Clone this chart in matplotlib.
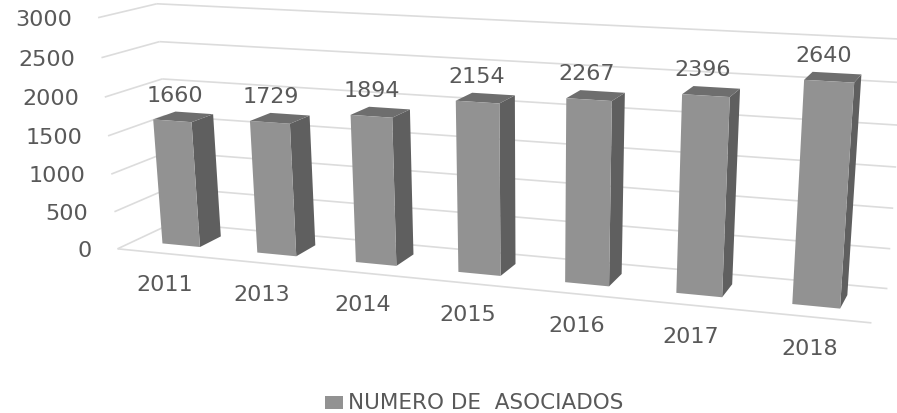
import numpy as np
import matplotlib
matplotlib.use("Agg")
import matplotlib.pyplot as plt

categories = ["2011", "2013", "2014", "2015", "2016", "2017", "2018"]
values = [1660, 1729, 1894, 2154, 2267, 2396, 2640]
y_ticks = [0, 500, 1000, 1500, 2000, 2500, 3000]
series_name = "NUMERO DE  ASOCIADOS"

W, H = 897, 414
FONT = "DejaVu Sans"
TEXT = "#595959"
GRID = "#dcdcdc"
FRONT, SIDE, TOP = "#929292", "#5f5f5f", "#6e6e6e"
BAR_W, Z0, Z1 = 0.40, 0.30, 0.70

# 3D camera, calibrated on the corners of the chart box: (cat, value, depth) -> pixel
n = len(categories)
ymax = y_ticks[-1]
box = [((0, 0, 0), (118, 248)), ((0, ymax, 0), (97, 17)),
       ((0, 0, 1), (172, 226)), ((0, ymax, 1), (158, 6)),
       ((n, 0, 1), (889, 290)), ((n, ymax, 1), (903, 36)),
       ((n, 0, 0), (870, 323)), ((n, ymax, 0), (892, 64))]
A, b = [], []
for (X, Y, Z), (u, v) in box:
    Y = Y / ymax
    A.append([X, Y, Z, 1, 0, 0, 0, 0, -u * X, -u * Y, -u * Z]); b.append(u)
    A.append([0, 0, 0, 0, X, Y, Z, 1, -v * X, -v * Y, -v * Z]); b.append(v)
p = np.linalg.lstsq(np.array(A, float), np.array(b, float), rcond=None)[0]
P = np.append(p, 1).reshape(3, 4)


def proj(X, val, Z):
    q = P @ np.array([X, val / ymax, Z, 1.0])
    return q[0] / q[2], q[1] / q[2]


fig = plt.figure(figsize=(W / 100, H / 100), dpi=100, facecolor="white")
ax = fig.add_axes([0, 0, 1, 1])
ax.set_xlim(0, W)
ax.set_ylim(H, 0)
ax.axis("off")


def line(a, b):
    pa, pb = proj(*a), proj(*b)
    ax.plot([pa[0], pb[0]], [pa[1], pb[1]], color=GRID, lw=1.2, zorder=1, solid_capstyle="butt")


for t in y_ticks:
    line((0, t, 0), (0, t, 1))
    line((0, t, 1), (n, t, 1))
    px, py = proj(0, t, 0)
    ax.text(px - 26, py + 1, str(t), ha="right", va="center", fontsize=16, family=FONT, color=TEXT)
line((0, 0, 0), (n, 0, 0))

for i, (cat, val) in enumerate(zip(categories, values)):
    c = i + 0.5
    l, r = c - BAR_W / 2, c + BAR_W / 2
    front = [proj(l, 0, Z0), proj(r, 0, Z0), proj(r, val, Z0), proj(l, val, Z0)]
    side = [proj(r, 0, Z0), proj(r, 0, Z1), proj(r, val, Z1), proj(r, val, Z0)]
    top = [proj(l, val, Z0), proj(r, val, Z0), proj(r, val, Z1), proj(l, val, Z1)]
    ax.fill(*zip(*side), color=SIDE, lw=0, zorder=2)
    ax.fill(*zip(*top), color=TOP, lw=0, zorder=2)
    ax.fill(*zip(*front), color=FRONT, lw=0, zorder=3)
    tx, ty = proj(c, val, 0.5)
    ax.text(tx - 9, ty - 22, str(val), ha="center", va="center", fontsize=16, family=FONT, color=TEXT, zorder=4)
    bx, by = proj(c, 0, 0)
    ax.text(bx, by + 31, cat, ha="center", va="center", fontsize=16, family=FONT, color=TEXT, zorder=4)

ax.fill([325, 343, 343, 325], [397, 397, 410, 410], color=FRONT, lw=0)
ax.text(348, 403, series_name, ha="left", va="center", fontsize=15.5, family=FONT, color=TEXT)

fig.savefig("out.png", dpi=100)
